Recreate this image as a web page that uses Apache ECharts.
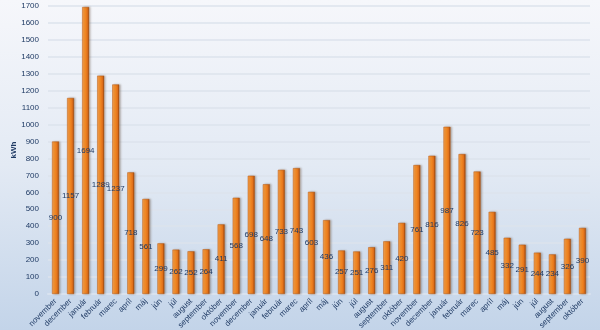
<!DOCTYPE html>
<html><head><meta charset="utf-8">
<script src="https://cdn.jsdelivr.net/npm/echarts@6/dist/echarts.min.js"></script>
<style>html,body{margin:0;padding:0;}#c{width:600px;height:330px;}</style>
</head><body><div id="c"></div>
<script>
const categories = ["november","december","január","február","marec","apríl","máj","jún","júl","august","september","október",
"november","december","január","február","marec","apríl","máj","jún","júl","august","september","október",
"november","december","január","február","marec","apríl","máj","jún","júl","august","september","október"];
const values = [900,1157,1694,1289,1237,718,561,299,262,252,264,411,
568,698,648,733,743,603,436,257,251,276,311,420,
761,816,987,826,723,485,332,291,244,234,326,390];
const yTicks = {min:0, max:1700, interval:100};

const chart = echarts.init(document.getElementById('c'));
chart.setOption({
  backgroundColor: new echarts.graphic.LinearGradient(0,0,0,1,[
    {offset:0,color:'#f6f7fb'},{offset:0.5,color:'#e3eaf4'},{offset:1,color:'#c3d4e9'}]),
  textStyle:{fontFamily:'Liberation Sans, Arial, sans-serif'},
  grid:{left:48,right:10,top:6,bottom:36,containLabel:false,outerBoundsMode:'none'},
  xAxis:{type:'category',data:categories,
    axisLine:{lineStyle:{color:'#d8e2ef',width:2}},axisTick:{show:false},
    axisLabel:{rotate:45,fontSize:8,color:'#1f3a64',interval:0,margin:6}},
  yAxis:{type:'value',min:yTicks.min,max:yTicks.max,interval:yTicks.interval,
    name:'kWh',nameLocation:'middle',nameGap:30,nameRotate:90,nameMoveOverlap:false,
    nameTextStyle:{fontSize:8,fontWeight:'bold',color:'#1f3a64'},
    axisLine:{show:false},axisTick:{show:false},
    axisLabel:{fontSize:8,color:'#1f3a64',margin:9,formatter:v=>String(v)},
    splitLine:{lineStyle:{color:'#dde3ec',width:1.5}}},
  series:[{type:'bar',data:values,barWidth:7,
    itemStyle:{color:new echarts.graphic.LinearGradient(0,0,1,0,[
      {offset:0,color:'#f9a451'},{offset:0.45,color:'#f48a24'},{offset:0.75,color:'#e0701a'},{offset:1,color:'#8a3d0c'}]),
      borderColor:'#b85a14',borderWidth:0.5,
      shadowColor:'rgba(80,60,40,0.35)',shadowBlur:2,shadowOffsetX:1.5},
    label:{show:true,position:'inside',fontSize:8,color:'#1f3a64'}
  }]
});
</script></body></html>
